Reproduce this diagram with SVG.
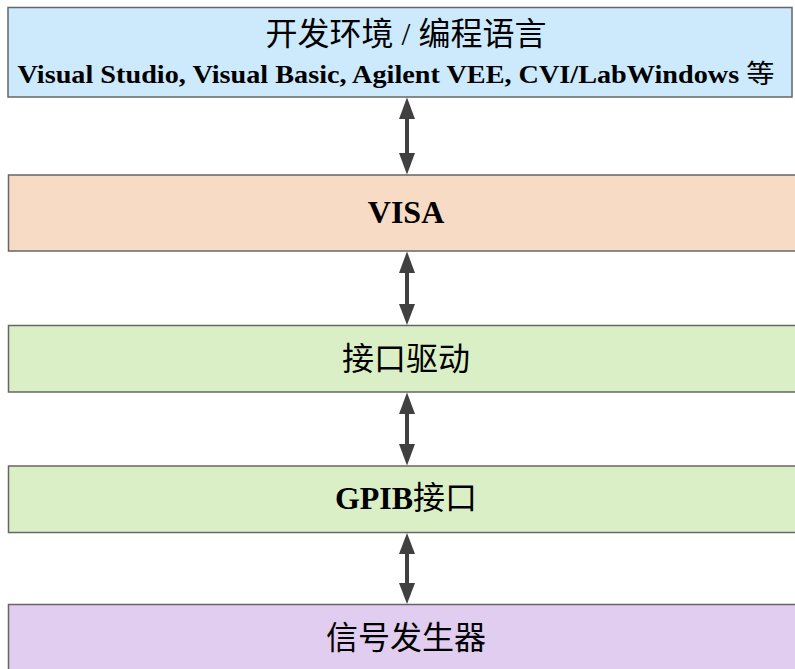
<svg xmlns="http://www.w3.org/2000/svg" width="795" height="669" viewBox="0 0 795 669">
<defs>
<style>
.box{stroke:#666666;stroke-width:1.5}
.t{font-family:"Liberation Serif","Noto Sans CJK SC",serif;font-size:32px;text-anchor:middle;fill:#000}
.b{font-weight:bold}
.n{font-weight:normal}
.conn{stroke:#404040;stroke-width:4;fill:none}
.ah{fill:#404040}
</style>
</defs>
<rect width="795" height="669" fill="#ffffff"/>
<g id="node-dev">
<rect class="box" x="8" y="7.5" width="784" height="89.5" fill="#cdeafd"/>
<text class="t" x="406" y="45">开发环境 / 编程语言</text>
<text class="t b" x="396" y="83" style="font-size:26px" textLength="757" lengthAdjust="spacingAndGlyphs">Visual Studio, Visual Basic, Agilent VEE, CVI/LabWindows <tspan class="n">等</tspan></text>
</g>
<g id="node-visa">
<rect class="box" x="8.5" y="175" width="790" height="76" fill="#f8dbc5"/>
<text class="t b" x="406" y="223">VISA</text>
</g>
<g id="node-driver">
<rect class="box" x="8.5" y="325.5" width="790" height="66.5" fill="#dbefc6"/>
<text class="t" x="406" y="370">接口驱动</text>
</g>
<g id="node-gpib">
<rect class="box" x="8.5" y="466" width="790" height="66.5" fill="#dbefc6"/>
<text class="t b" x="406" y="509">GPIB<tspan class="n">接口</tspan></text>
</g>
<g id="node-gen">
<rect class="box" x="8.5" y="604.5" width="790" height="80" fill="#e0cdf0"/>
<text class="t" x="406" y="649">信号发生器</text>
</g>
<g id="connectors">
<line class="conn" x1="407" y1="118" x2="407" y2="154"/>
<path class="ah" d="M407,97.5 L399,119 L415,119 Z"/>
<path class="ah" d="M407,174.5 L399,153 L415,153 Z"/>
<line class="conn" x1="407" y1="272" x2="407" y2="305"/>
<path class="ah" d="M407,251.5 L399,273 L415,273 Z"/>
<path class="ah" d="M407,325 L399,304 L415,304 Z"/>
<line class="conn" x1="407" y1="413" x2="407" y2="446"/>
<path class="ah" d="M407,392.5 L399,414 L415,414 Z"/>
<path class="ah" d="M407,465.5 L399,444 L415,444 Z"/>
<line class="conn" x1="407" y1="553" x2="407" y2="584"/>
<path class="ah" d="M407,533 L399,554 L415,554 Z"/>
<path class="ah" d="M407,604 L399,583 L415,583 Z"/>
</g>
</svg>
